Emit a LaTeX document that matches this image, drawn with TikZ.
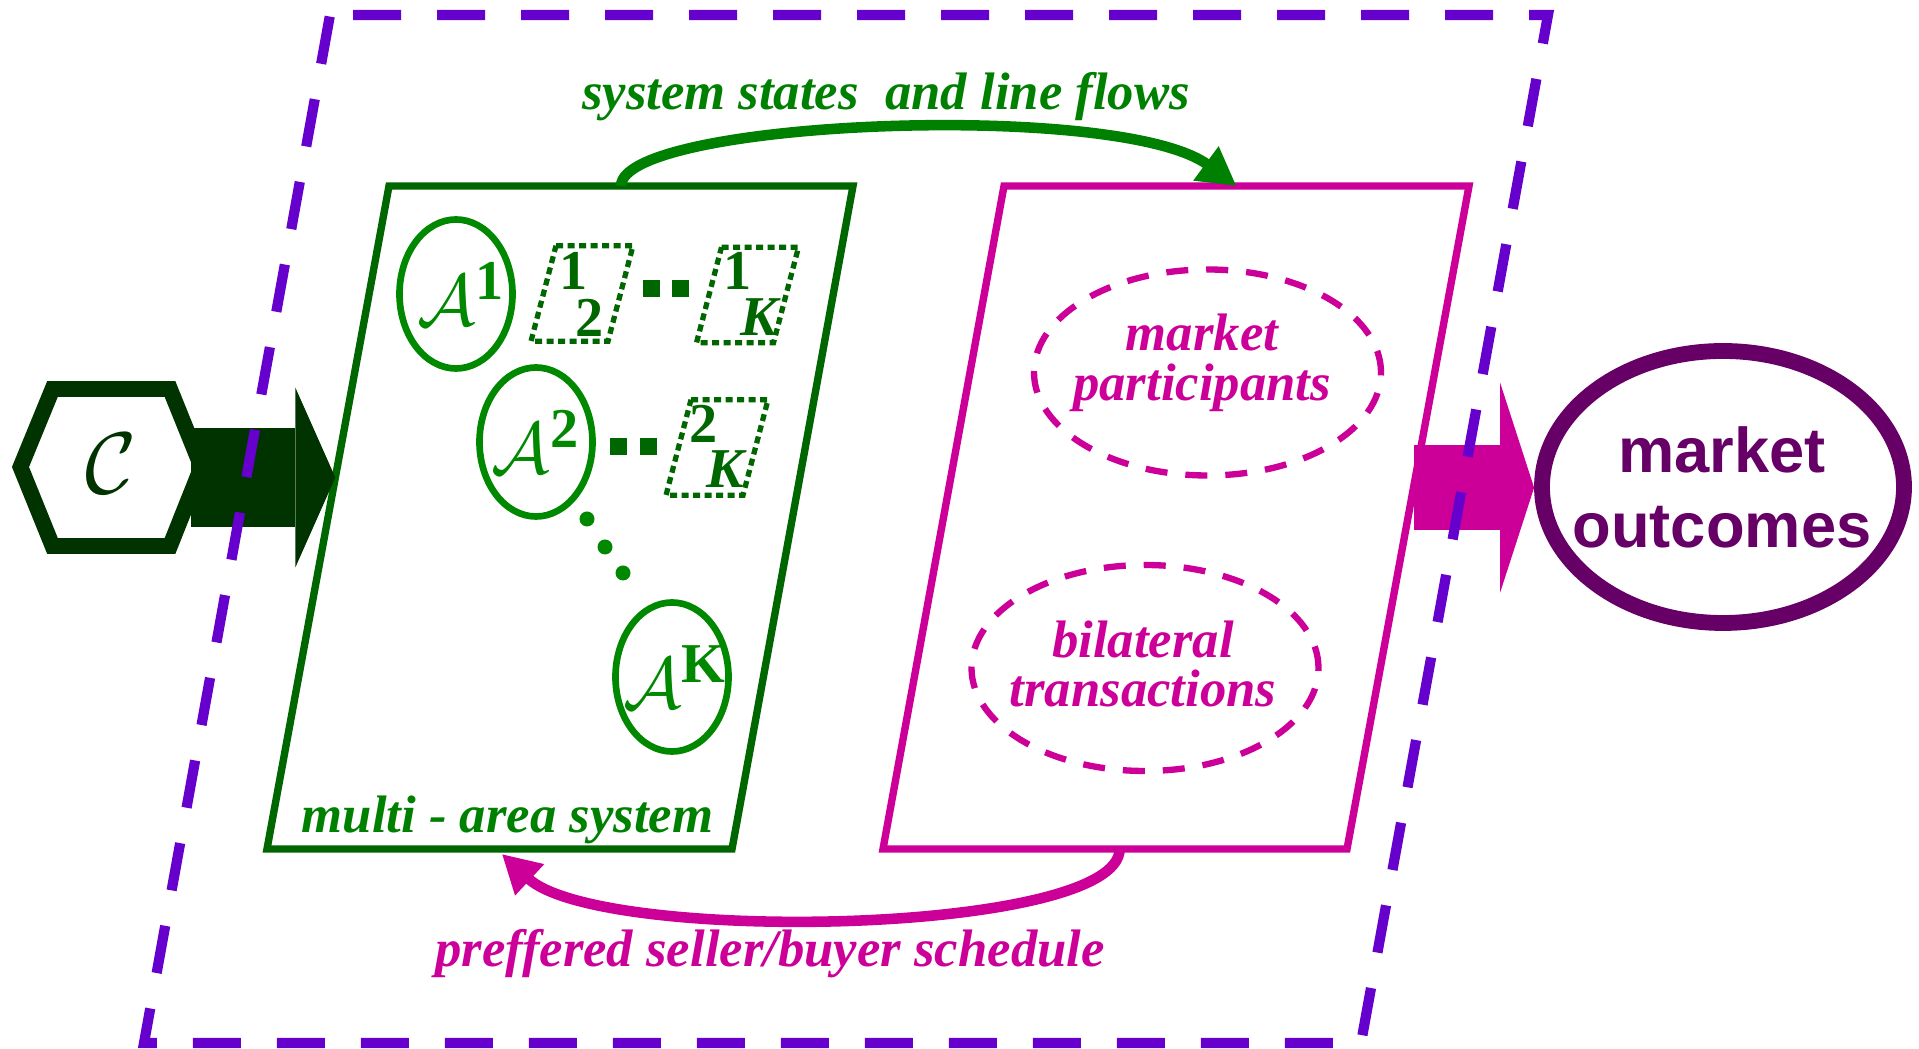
\documentclass[tikz,border=0pt]{standalone}
\usepackage{amsmath}
\usepackage{fontspec}
\setmainfont{Liberation Serif}
\setsansfont{Liberation Sans}
\usetikzlibrary{arrows.meta, positioning, calc, shapes.geometric}

\definecolor{boxgreen}{RGB}{0,102,0}
\definecolor{areagreen}{RGB}{0,136,0}
\definecolor{flowgreen}{RGB}{0,128,0}
\definecolor{hexgreen}{RGB}{0,51,0}
\definecolor{mktpink}{RGB}{204,0,153}
\definecolor{zonepurple}{RGB}{102,0,204}
\definecolor{outpurple}{RGB}{102,0,102}

\tikzset{
    zone/.style = {draw=zonepurple, line width=2.9pt, dash pattern=on 0.48cm off 0.36cm, dash phase=0.61cm},
    sysbox/.style = {draw=boxgreen, line width=2.1pt},
    mktbox/.style = {draw=mktpink, line width=2.1pt},
    hexline/.style = {draw=hexgreen, line width=4.5pt, line join=miter},
    area/.style = {ellipse, draw=areagreen, line width=1.9pt, minimum width=1.13cm, minimum height=1.49cm, inner sep=0pt},
    atxt/.style = {text=areagreen, font=\fontsize{22}{22}\selectfont, inner sep=0pt},
    dotbox/.style = {draw=boxgreen, line width=1.5pt, dash pattern=on 0.07cm off 0.045cm},
    idx/.style = {text=boxgreen, font=\fontsize{16}{16}\selectfont\bfseries, inner sep=0pt},
    lbl/.style = {font=\fontsize{15}{14.2}\selectfont\bfseries\itshape, align=center, inner sep=0pt},
    group/.style = {ellipse, draw=mktpink, line width=1.8pt, dash pattern=on 0.22cm off 0.18cm, minimum width=3.47cm, minimum height=2.06cm, inner sep=0pt},
    outc/.style = {ellipse, draw=outpurple, line width=4.5pt, minimum width=3.62cm, minimum height=2.72cm, inner sep=0pt},
    flow/.style = {line width=3pt, -{Triangle[length=0.38cm, width=0.40cm]}}
}
\newcommand{\supbf}[1]{\text{\fontsize{16}{16}\selectfont\bfseries #1}}

\begin{document}
\begin{tikzpicture}[x=1cm, y=-1cm]
\useasboundingbox (0,0) rectangle (19.19,10.49);

% multi-area system box
\coordinate (gTL) at (3.89,1.86);
\coordinate (gTR) at (8.53,1.86);
\coordinate (gBR) at (7.32,8.49);
\coordinate (gBL) at (2.67,8.49);
\draw[sysbox] (gTL) -- (gTR) -- (gBR) -- (gBL) -- cycle;
\node[lbl, text=flowgreen, anchor=base] (mas) at (5.075,8.33) {multi - area system};

% market box
\coordinate (mTL) at (10.04,1.86);
\coordinate (mTR) at (14.69,1.86);
\coordinate (mBR) at (13.47,8.49);
\coordinate (mBL) at (8.83,8.49);
\draw[mktbox] (mTL) -- (mTR) -- (mBR) -- (mBL) -- cycle;

% areas
\node[area, label={[atxt, xshift=0.55mm]center:$\mathcal{A}^{\supbf{1}}$}] (a1) at (4.56,2.94) {};
\node[area, label={[atxt]center:$\mathcal{A}^{\supbf{2}}$}] (a2) at (5.36,4.42) {};
\node[area, label={[atxt, xshift=0.3mm]center:$\mathcal{A}^{\supbf{K}}$}] (aK) at (6.72,6.77) {};

% index boxes
\foreach \cx/\cy in {5.82/2.935, 7.475/2.95, 7.17/4.475}
    \draw[dotbox] (\cx-0.26,\cy-0.4775) -- ++(0.77,0) -- ++(-0.25,0.955) -- ++(-0.77,0) -- cycle;
\node[idx] (i1a) at (5.74,2.71) {1};
\node[idx] (i2a) at (5.90,3.175) {2};
\node[idx] (i1b) at (7.375,2.71) {1};
\node[idx] (k1b) at (7.595,3.175) {\itshape K};
\node[idx] (i2c) at (7.04,4.235) {2};
\node[idx] (k2c) at (7.25,4.695) {\itshape K};

% dots
\foreach \sx/\sy in {6.51/2.885, 6.805/2.885, 6.18/4.47, 6.485/4.47}
    \fill[boxgreen] (\sx-0.085,\sy-0.085) rectangle ++(0.17,0.17);
\foreach \dx/\dy in {5.87/5.19, 6.05/5.47, 6.23/5.73}
    \fill[areagreen] (\dx,\dy) circle (0.075);

% market groups
\node[group] (mpart) at (12.075,3.725) {};
\node[lbl, text=mktpink] (mpartlbl) at (12.02,3.63) {market\\participants};
\node[group] (bilat) at (11.45,6.68) {};
\node[lbl, text=mktpink] (bilatlbl) at (11.43,6.64) {bilateral\\transactions};

% outcomes
\node[outc] (out) at (17.23,4.87) {};
\node[font=\sffamily\bfseries\fontsize{18}{21.3}\selectfont, text=outpurple, align=center, inner sep=0pt] (outlbl) at (17.22,4.87) {market\\outcomes};

% constraint set
\node[text=hexgreen, font=\fontsize{28}{28}\selectfont, inner sep=0pt] (cset) at (1.11,4.64) {$\mathcal{C}$};
\draw[hexline] ($(cset)+(-0.905,0.03)$) -- ($(cset)+(-0.585,-0.75)$) -- ($(cset)+(0.59,-0.75)$)
    -- ($(cset)+(0.905,0.03)$) -- ($(cset)+(0.59,0.82)$) -- ($(cset)+(-0.585,0.82)$) -- cycle;

% big arrows
\coordinate (hexR) at ($(cset)+(0.80,0.135)$);
\coordinate (gIn) at ($(gTL)!0.44!(gBL)$);
\draw[hexgreen, line width=0.99cm, -{Triangle[length=0.40cm, width=1.80cm, line width=0pt]}] (hexR) -- (hexR -| gIn);
\coordinate (mOut) at ($(mTR)!0.455!(mBR)$);
\draw[mktpink, line width=0.85cm, -{Triangle[length=0.34cm, width=2.10cm, line width=0pt]}] (mOut) -- (mOut -| out.west);

% system states -> market
\coordinate (sysTop) at ($(gTL)!0.5!(gTR)$);
\coordinate (mktTop) at ($(mTL)!0.5!(mTR)$);
\draw[flow, flowgreen] (sysTop) .. controls ($(sysTop)+(0.01,-0.66)$) and ($(mktTop)+(-1.165,-0.86)$) .. (mktTop);
\node[lbl, text=flowgreen, anchor=base] (states) at (8.86,1.10) {system states~ and line flows};

% schedule -> system
\coordinate (mktBot) at ($(mBL)!0.51!(mBR)$);
\coordinate (sysBot) at ($(gBL)!0.505!(gBR)+(0,0.05)$);
\draw[flow, mktpink] (mktBot) .. controls ($(mktBot)+(0,0.86)$) and ($(sysBot)+(0.98,0.91)$) .. (sysBot);
\node[lbl, text=mktpink, anchor=base] (sched) at (7.70,9.67) {preffered seller/buyer schedule};

% dashed zone
\coordinate (zTL) at (3.30,0.15);
\coordinate (zTR) at (15.48,0.15);
\coordinate (zBR) at (13.61,10.43);
\coordinate (zBL) at (1.44,10.43);
\draw[zone] (zTL) -- (zTR) -- (zBR) -- (zBL) -- cycle;
\end{tikzpicture}
\end{document}
